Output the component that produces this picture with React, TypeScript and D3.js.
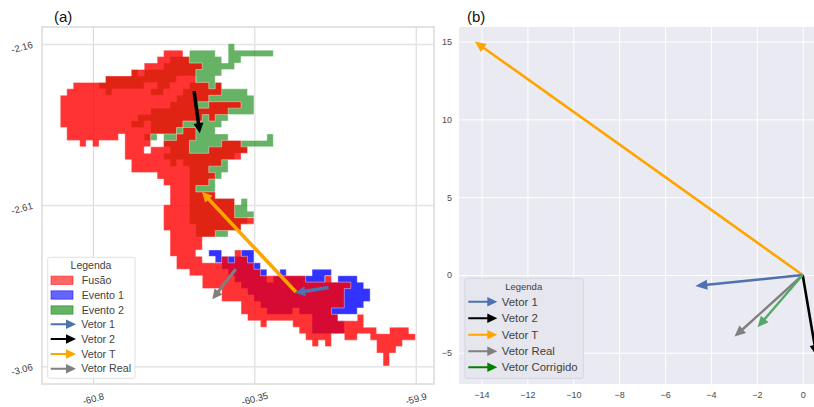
import { useRef, useEffect } from "react";
import * as d3 from "d3";

// raster cells: [row, firstCol, lastCol]
const fusaoOnly = [
  [1,16,18],[2,15,16],[3,13,15],[4,12,12],[5,18,20],[6,2,5],[6,13,14],[6,17,19],[7,1,6],[7,8,13],[7,16,18],
  [8,0,17],[9,0,16],[10,0,13],[11,0,11],[12,0,10],[12,13,13],[13,1,13],[14,1,8],[14,10,12],[15,3,3],[15,5,5],[15,10,13],
  [16,10,12],[16,14,16],[17,10,15],[17,27,27],[18,11,16],[18,18,18],[19,11,19],[20,15,19],[21,16,19],[22,17,19],[23,17,19],
  [24,17,19],[25,16,19],[26,16,19],[27,16,19],[27,29,29],[28,16,20],[29,17,20],[30,17,21],[31,17,21],[32,17,20],[32,27,27],
  [33,18,21],[34,18,24],[35,20,25],[36,22,26],[36,32,32],[36,41,41],[37,22,27],[38,25,28],[39,25,29],[40,28,30],
  [41,28,31],[41,36,36],[42,29,38],[42,46,46],[43,31,31],[43,36,38],[43,44,46],[44,37,38],[44,44,48],[44,51,53],
  [45,38,41],[45,44,45],[45,48,54],[46,39,39],[46,41,41],[46,49,52],[47,49,51],[48,50,50],[49,50,50],
];
const fusaoEvento2 = [
  [2,17,19],[3,16,21],[4,11,11],[4,13,20],[5,7,17],[6,6,12],[6,15,16],[6,20,22],[6,24,24],[7,7,7],[7,14,15],[7,19,24],
  [8,18,22],[9,17,20],[9,23,27],[10,14,25],[11,12,21],[11,23,23],[12,11,12],[12,14,18],[13,14,17],[13,19,20],[14,13,13],[14,18,20],
  [15,16,19],[15,25,27],[16,17,19],[16,23,28],[17,16,26],[18,17,17],[18,19,24],[19,20,22],[20,20,23],[21,20,22],[22,20,20],
  [23,20,23],[24,20,26],[25,20,26],[26,20,26],[27,20,28],[28,21,27],[29,21,23],
];
const fusaoEvento1 = [
  [33,25,25],[33,27,28],[34,25,29],[35,26,30],[36,27,31],[36,33,37],[37,28,44],[38,29,43],[39,30,43],[40,31,43],
  [41,32,35],[41,37,41],[42,39,42],[43,39,43],[44,39,43],
];
const evento2Only = [
  [0,26,26],[1,20,23],[1,26,32],[2,20,24],[2,26,27],[3,22,26],[4,21,24],[5,21,23],[6,23,23],[7,25,28],[8,23,29],[9,21,22],[9,28,29],
  [10,26,29],[11,22,22],[11,24,25],[12,19,24],[13,18,18],[13,21,23],[14,14,14],[14,16,17],[14,21,25],[14,32,32],[15,20,24],[15,28,32],
  [16,20,22],[18,25,25],[19,23,25],[20,24,24],[21,23,23],[22,21,23],[24,28,28],[25,27,28],[26,27,29],[29,24,25],
];
const evento1Only = [
  [32,23,24],[32,28,29],[33,24,24],[33,26,26],[33,29,29],[34,30,30],[35,31,31],[35,34,34],[35,39,41],
  [36,38,40],[36,43,45],[37,45,46],[38,44,47],[39,44,47],[40,44,46],[41,42,45],
];

const lonTicks = [-60.8, -60.35, -59.9];
const latTicks = [-2.16, -2.61, -3.06];
const vxTicks = [-14, -12, -10, -8, -6, -4, -2, 0];
const vyTicks = [-5, 0, 5, 10, 15];

// map arrows: lon0, lat0, lon1, lat1
const mapVetorT = [-60.234, -2.853, -60.496, -2.573];
const mapVetor1 = [-60.143, -2.84, -60.236, -2.855];
const mapVetor2 = [-60.518, -2.291, -60.502, -2.409];
const mapVetorReal = [-60.402, -2.789, -60.467, -2.873];

// right panel vectors: tip x, tip y (all start at the origin)
const vetorT = [-14.29, 15.0];
const vetor1 = [-4.68, -0.71];
const vetor2 = [0.6, -5.2];
const vetorReal = [-2.97, -3.96];
const vetorCorrigido = [-1.97, -3.36];

const cellDeg = 0.018;
const lonStart = -60.891;
const latStart = -2.1592;
const FONT = "'Liberation Sans', Arial, sans-serif";

const arrowPath = (x0, y0, x1, y1, w, headL, headW) => {
  const a = Math.atan2(y1 - y0, x1 - x0);
  const ux = Math.cos(a), uy = Math.sin(a);
  const bx = x1 - ux * headL, by = y1 - uy * headL;
  const p = d3.path();
  p.moveTo(x0 - uy * -w / 2, y0 + ux * -w / 2);
  p.lineTo(bx - uy * -w / 2, by + ux * -w / 2);
  p.lineTo(bx - uy * -headW / 2, by + ux * -headW / 2);
  p.lineTo(x1, y1);
  p.lineTo(bx + uy * -headW / 2, by - ux * -headW / 2);
  p.lineTo(bx + uy * -w / 2, by - ux * -w / 2);
  p.lineTo(x0 + uy * -w / 2, y0 - ux * -w / 2);
  p.closePath();
  return p.toString();
};

const App = () => {
  const svgRef = useRef();

  useEffect(() => {
    const svg = d3.select(svgRef.current);
    svg.selectAll("*").remove();

    // ---------- panel (a)
    const x = d3.scaleLinear().domain([-60.942, -59.849]).range([42, 434]);
    const y = d3.scaleLinear().domain([-2.1125, -3.1097]).range([27, 384]);

    const axB = svg.append("g").attr("transform", "translate(0,384)")
      .call(d3.axisBottom(x).tickValues(lonTicks).tickFormat((d) => String(d)).tickSize(-357));
    const axL = svg.append("g").attr("transform", "translate(42,0)")
      .call(d3.axisLeft(y).tickValues(latTicks).tickFormat((d) => String(d)).tickSize(-392));
    [axB, axL].forEach((g) => g.select(".domain").remove());
    axB.selectAll("line").attr("stroke", "#d6d6d6").attr("stroke-width", 1);
    axL.selectAll("line").attr("stroke", "#e4e4e4").attr("stroke-width", 1.5);
    axB.selectAll("text")
      .attr("y", 15).attr("dy", ".32em").attr("text-anchor", "middle")
      .attr("transform", "rotate(-15,0,15)");
    axL.selectAll("text")
      .attr("x", -20).attr("y", 3).attr("dy", ".32em").attr("text-anchor", "middle")
      .attr("transform", "rotate(-15,-20,3)");
    [axB, axL].forEach((g) =>
      g.selectAll("text").attr("font-family", FONT).attr("font-size", 9.5).attr("fill", "#3c3c3c"));

    const cellKey = (r, c) => r + ":" + c;
    const drawMask = (lists, color, opacity) => {
      const cells = new Set();
      lists.forEach((l) => l.forEach(([r, a, b]) => {
        for (let c = a; c <= b; c++) cells.add(cellKey(r, c));
      }));
      const fill = d3.path();
      const edge = d3.path();
      cells.forEach((k) => {
        const [r, c] = k.split(":").map(Number);
        const x0 = x(lonStart + c * cellDeg), x1 = x(lonStart + (c + 1) * cellDeg);
        const y0 = y(latStart - r * cellDeg), y1 = y(latStart - (r + 1) * cellDeg);
        fill.rect(x0, y0, x1 - x0, y1 - y0);
        if (!cells.has(cellKey(r - 1, c))) { edge.moveTo(x0, y0); edge.lineTo(x1, y0); }
        if (!cells.has(cellKey(r + 1, c))) { edge.moveTo(x0, y1); edge.lineTo(x1, y1); }
        if (!cells.has(cellKey(r, c - 1))) { edge.moveTo(x0, y0); edge.lineTo(x0, y1); }
        if (!cells.has(cellKey(r, c + 1))) { edge.moveTo(x1, y0); edge.lineTo(x1, y1); }
      });
      svg.append("path").attr("d", fill.toString()).attr("fill", color).attr("fill-opacity", opacity);
      svg.append("path").attr("d", edge.toString()).attr("fill", "none")
        .attr("stroke", "#fff").attr("stroke-opacity", 0.4).attr("stroke-width", 1);
    };
    drawMask([evento2Only, fusaoEvento2], "#008000", 0.6);
    drawMask([evento1Only, fusaoEvento1], "#0000ff", 0.8);
    drawMask([fusaoOnly, fusaoEvento2, fusaoEvento1], "#ff0000", 0.8);

    // frame (a)
    svg.append("rect").attr("x", 42).attr("y", 27).attr("width", 392).attr("height", 357)
      .attr("fill", "none").attr("stroke", "#dcdcdc").attr("stroke-width", 1.6);

    const mapArrow = (v, color, w, hl, hw) =>
      svg.append("path")
        .attr("d", arrowPath(x(v[0]), y(v[1]), x(v[2]), y(v[3]), w, hl, hw))
        .attr("fill", color);
    mapArrow(mapVetorT, "#ffa500", 3.6, 10, 10);
    mapArrow(mapVetor1, "#4c72b0", 3.6, 10, 10);
    mapArrow(mapVetor2, "#000000", 3.6, 10, 10);
    mapArrow(mapVetorReal, "#808080", 3.2, 10, 10);

    // legend (a)
    const text = (tx, ty, s, size, fill = "#3f3f3f", anchor = "start") =>
      svg.append("text").attr("x", tx).attr("y", ty).attr("dy", ".34em")
        .attr("font-family", FONT).attr("font-size", size).attr("fill", fill)
        .attr("text-anchor", anchor).text(s);

    svg.append("rect").attr("x", 47.7).attr("y", 257.3).attr("width", 87.3).attr("height", 121)
      .attr("rx", 2).attr("fill", "#fff").attr("fill-opacity", 0.8)
      .attr("stroke", "#e0e0e0");
    text(91, 265.5, "Legenda", 10.5, "#3f3f3f", "middle");
    [["Fusão", "#ff0000", 0.6], ["Evento 1", "#0000ff", 0.6], ["Evento 2", "#008000", 0.6]].forEach(([s, c, o], i) => {
      const cy = [280.3, 295, 310][i];
      svg.append("rect").attr("x", 51).attr("y", cy - 4.2).attr("width", 22).attr("height", 8.4)
        .attr("fill", c).attr("fill-opacity", o).attr("stroke", c).attr("stroke-opacity", 0.5);
      text(81.7, cy, s, 10.7);
    });
    [["Vetor 1", "#4c72b0"], ["Vetor 2", "#000000"], ["Vetor T", "#ffa500"], ["Vetor Real", "#808080"]].forEach(([s, c], i) => {
      const cy = [324.3, 339, 354, 368.7][i];
      svg.append("path").attr("d", arrowPath(50.7, cy, 76, cy, 2, 10, 9.5)).attr("fill", c);
      text(81.2, cy, s, 10.7);
    });

    text(54, 17, "(a)", 15, "#111");

    // ---------- panel (b)
    const vx = d3.scaleLinear().domain([-14, 0]).range([481.5, 802.7]);
    const vy = d3.scaleLinear().domain([-5, 15]).range([352.8, 41.6]);

    svg.append("rect").attr("x", 459).attr("y", 27).attr("width", 355).attr("height", 357).attr("fill", "#eaeaf2");

    const fmt = (d) => String(d).replace("-", "\u2212");
    const bB = svg.append("g").attr("transform", "translate(0,384)")
      .call(d3.axisBottom(vx).tickValues(vxTicks).tickFormat(fmt).tickSize(-357).tickPadding(8));
    const bL = svg.append("g").attr("transform", "translate(459,0)")
      .call(d3.axisLeft(vy).tickValues(vyTicks).tickFormat(fmt).tickSize(-355).tickPadding(7));
    [bB, bL].forEach((g) => {
      g.select(".domain").remove();
      g.selectAll("line").attr("stroke", "#fff").attr("stroke-width", 1);
      g.selectAll("text").attr("font-family", FONT).attr("font-size", 9).attr("fill", "#4a4a4a");
    });

    const vecArrow = (v, color, w, hl, hw) =>
      svg.append("path")
        .attr("d", arrowPath(vx(0), vy(0), vx(v[0]), vy(v[1]), w, hl, hw))
        .attr("fill", color);
    vecArrow(vetorT, "#ffa500", 2.6, 11, 10);
    vecArrow(vetor1, "#4c72b0", 2.6, 12, 10);
    vecArrow(vetor2, "#000000", 2.6, 11, 10);
    vecArrow(vetorReal, "#808080", 2.4, 11, 10);
    vecArrow(vetorCorrigido, "#55a868", 2.4, 11, 10);

    // legend (b)
    svg.append("rect").attr("x", 465).attr("y", 278.3).attr("width", 118.3).attr("height", 100)
      .attr("rx", 2).attr("fill", "#e6e6ee").attr("stroke", "#d4d4dc");
    text(523.7, 286.7, "Legenda", 9.5, "#3f3f3f", "middle");
    [["Vetor 1", "#4c72b0"], ["Vetor 2", "#000000"], ["Vetor T", "#ffa500"], ["Vetor Real", "#808080"], ["Vetor Corrigido", "#008000"]].forEach(([s, c], i) => {
      const cy = [301.7, 318.3, 334.7, 351.3, 367.3][i];
      svg.append("path").attr("d", arrowPath(468.3, cy, 497.3, cy, 2, 10, 9.5)).attr("fill", c);
      text(501.7, cy, s, 11.4);
    });

    text(467, 17, "(b)", 15, "#111");
  }, []);

  return (
    <svg
      ref={svgRef}
      width={814}
      height={407}
      style={{ position: "absolute", left: 0, top: 0, background: "#fff" }}
    ></svg>
  );
};

export default App;
